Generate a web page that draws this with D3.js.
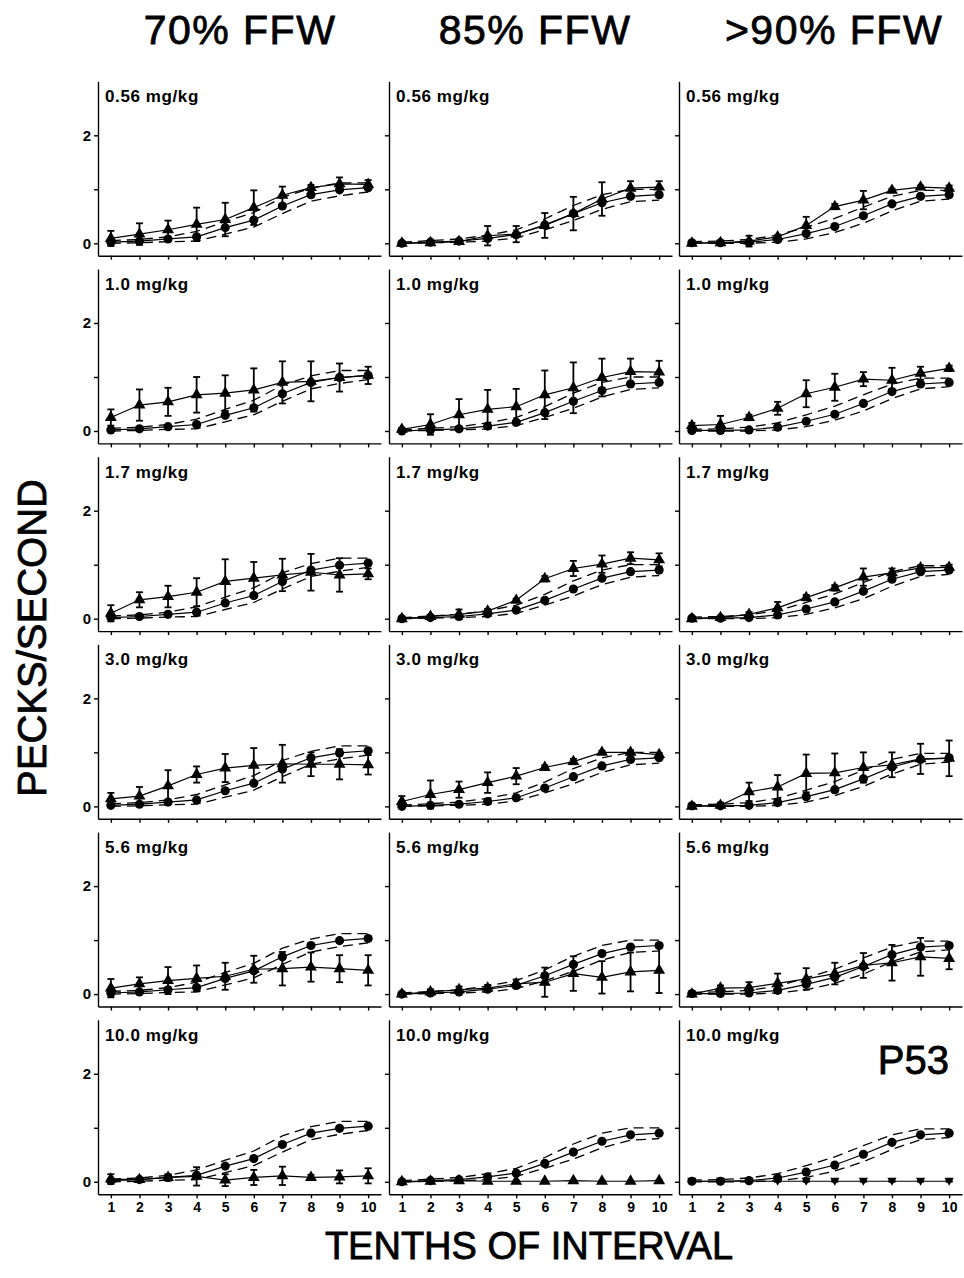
<!DOCTYPE html>
<html>
<head>
<meta charset="utf-8">
<script src="https://cdn.jsdelivr.net/npm/d3@7"></script>
<style>
  body { margin: 0; background: #fff; }
  svg { display: block; }
</style>
</head>
<body>
<script>
// column (food-weight) conditions and dose rows
var columns = ['70% FFW', '85% FFW', '>90% FFW'];
var doses = ['0.56 mg/kg', '1.0 mg/kg', '1.7 mg/kg', '3.0 mg/kg', '5.6 mg/kg', '10.0 mg/kg'];
var tenths = [1, 2, 3, 4, 5, 6, 7, 8, 9, 10];
var yTicks = [0, 1, 2];

// control sessions (circles) with dashed range, one per column
var controlMean = [
  [0.02, 0.04, 0.08, 0.12, 0.29, 0.43, 0.69, 0.9, 0.99, 1.03],
  [0.0, 0.02, 0.04, 0.09, 0.16, 0.34, 0.55, 0.75, 0.87, 0.9],
  [0.01, 0.01, 0.02, 0.07, 0.18, 0.31, 0.51, 0.73, 0.87, 0.9]
];
var controlUpper = [
  [0.05, 0.07, 0.12, 0.22, 0.4, 0.57, 0.85, 1.02, 1.12, 1.12],
  [0.02, 0.05, 0.08, 0.15, 0.25, 0.45, 0.7, 0.9, 1.0, 1.0],
  [0.03, 0.04, 0.07, 0.15, 0.3, 0.46, 0.67, 0.87, 0.98, 0.98]
];
var controlLower = [
  [0.0, 0.01, 0.03, 0.04, 0.17, 0.3, 0.55, 0.78, 0.88, 0.95],
  [0.0, 0.01, 0.02, 0.04, 0.1, 0.25, 0.42, 0.63, 0.77, 0.8],
  [0.0, 0.0, 0.0, 0.02, 0.08, 0.2, 0.37, 0.6, 0.78, 0.82]
];

// drug sessions (triangles): mean and error, [dose][tenth]
var drug70 = [
  [0.09, 0.17, 0.25, 0.35, 0.44, 0.66, 0.89, 1.03, 1.1, 1.09],
  [0.25, 0.48, 0.54, 0.67, 0.7, 0.76, 0.9, 0.92, 0.99, 1.03],
  [0.1, 0.35, 0.41, 0.49, 0.69, 0.75, 0.81, 0.86, 0.81, 0.83],
  [0.14, 0.19, 0.38, 0.59, 0.71, 0.76, 0.79, 0.78, 0.78, 0.77],
  [0.11, 0.19, 0.25, 0.29, 0.33, 0.46, 0.47, 0.5, 0.47, 0.44],
  [0.05, 0.04, 0.08, 0.1, 0.03, 0.08, 0.11, 0.08, 0.09, 0.11]
];
var err70 = [
  [0.14, 0.2, 0.17, 0.31, 0.31, 0.32, 0.16, 0.05, 0.12, 0.08],
  [0.15, 0.29, 0.26, 0.33, 0.33, 0.4, 0.39, 0.37, 0.26, 0.16],
  [0.15, 0.14, 0.2, 0.26, 0.41, 0.3, 0.3, 0.34, 0.31, 0.1],
  [0.11, 0.17, 0.29, 0.15, 0.26, 0.32, 0.35, 0.22, 0.28, 0.18],
  [0.17, 0.12, 0.25, 0.24, 0.25, 0.25, 0.31, 0.27, 0.25, 0.28],
  [0.09, 0.03, 0.06, 0.17, 0.11, 0.14, 0.17, 0.05, 0.12, 0.14]
];
var drug85 = [
  [0.0, 0.01, 0.03, 0.14, 0.17, 0.33, 0.55, 0.82, 1.02, 1.04],
  [0.03, 0.12, 0.3, 0.4, 0.45, 0.67, 0.8, 0.99, 1.1, 1.09],
  [0.0, 0.04, 0.08, 0.14, 0.34, 0.74, 0.93, 1.01, 1.12, 1.09],
  [0.09, 0.22, 0.31, 0.44, 0.56, 0.72, 0.83, 1.0, 1.0, 0.96],
  [0.0, 0.04, 0.08, 0.11, 0.19, 0.22, 0.38, 0.31, 0.41, 0.44],
  [0.0, 0.01, 0.02, 0.01, 0.01, 0.01, 0.02, 0.01, 0.01, 0.02]
];
var err85 = [
  [0.02, 0.02, 0.03, 0.18, 0.15, 0.23, 0.31, 0.31, 0.13, 0.11],
  [0.03, 0.19, 0.29, 0.36, 0.33, 0.45, 0.47, 0.35, 0.24, 0.21],
  [0.02, 0.03, 0.09, 0.04, 0.03, 0.05, 0.14, 0.16, 0.11, 0.12],
  [0.1, 0.26, 0.15, 0.19, 0.15, 0.04, 0.05, 0.03, 0.04, 0.03],
  [0.02, 0.05, 0.06, 0.06, 0.08, 0.27, 0.32, 0.3, 0.36, 0.42],
  [0.01, 0.01, 0.01, 0.01, 0.01, 0.01, 0.01, 0.01, 0.01, 0.01]
];
var drug90 = [
  [0.0, 0.01, 0.04, 0.12, 0.33, 0.68, 0.8, 0.98, 1.04, 1.02],
  [0.1, 0.12, 0.25, 0.42, 0.69, 0.81, 0.96, 0.94, 1.07, 1.16],
  [0.0, 0.02, 0.08, 0.2, 0.39, 0.57, 0.77, 0.85, 0.94, 0.95],
  [0.0, 0.02, 0.27, 0.36, 0.61, 0.62, 0.72, 0.77, 0.88, 0.89],
  [0.0, 0.11, 0.12, 0.2, 0.28, 0.38, 0.53, 0.58, 0.69, 0.66],
  [0.01, 0.01, 0.01, 0.01, 0.01, 0.01, 0.01, 0.01, 0.01, 0.01]
];
var err90 = [
  [0.02, 0.02, 0.1, 0.03, 0.16, 0.05, 0.17, 0.03, 0.03, 0.05],
  [0.05, 0.16, 0.05, 0.12, 0.25, 0.25, 0.13, 0.23, 0.12, 0.05],
  [0.02, 0.03, 0.04, 0.11, 0.05, 0.05, 0.16, 0.08, 0.05, 0.05],
  [0.02, 0.05, 0.17, 0.22, 0.35, 0.36, 0.28, 0.23, 0.28, 0.33],
  [0.02, 0.05, 0.1, 0.18, 0.2, 0.2, 0.23, 0.33, 0.35, 0.2],
  [0.01, 0.01, 0.01, 0.01, 0.01, 0.01, 0.01, 0.01, 0.01, 0.01]
];
var drugByCol = [drug70, drug85, drug90];
var errByCol = [err70, err85, err90];

var W = 964, H = 1278;
var FONT = '"Liberation Sans", Arial, Helvetica, sans-serif';
var PANEL_W = 283, PANEL_H = 174.4;
var colLeft = [98, 389, 679];
var titleX = [240, 535, 834];
var ROW_TOP = 81.3, ROW_STEP = 187.7;

var svg = d3.select('body').append('svg')
  .attr('width', W)
  .attr('height', H)
  .style('font-family', FONT);

var x = d3.scaleLinear().domain([0.55, 10.45]).range([0, PANEL_W]);
var y = d3.scaleLinear().domain([-0.23, 3]).range([PANEL_H, 0]);

var line = d3.line()
  .x(function(d, i) { return x(tenths[i]); })
  .y(function(d) { return y(d); });

var circle = d3.symbol().type(d3.symbolCircle).size(66);
var triUp = d3.symbol().type(d3.symbolTriangle).size(62);
// the last panel (10 mg/kg, >90%) uses inverted triangles
var triDown = 'M0,4.6L-4.6,-3.4L4.6,-3.4Z';

doses.forEach(function(dose, r) {
  columns.forEach(function(col, c) {
    var g = svg.append('g')
      .attr('transform', 'translate(' + colLeft[c] + ',' + (ROW_TOP + r * ROW_STEP) + ')');

    var yAxis = d3.axisLeft(y).tickValues(yTicks).tickSize(4).tickSizeOuter(0)
      .tickFormat(function(d) { return c === 0 && d !== 1 ? d : ''; });
    var xAxis = d3.axisBottom(x).tickValues(tenths).tickSize(4).tickSizeOuter(0)
      .tickFormat(function(d) { return r === doses.length - 1 ? d : ''; });

    var ga = g.append('g').call(yAxis);
    ga.selectAll('text').attr('x', -7).style('font-size', '15px').style('font-weight', 'bold')
      .style('font-family', FONT);
    var gb = g.append('g').attr('transform', 'translate(0,' + PANEL_H + ')').call(xAxis);
    gb.selectAll('text').attr('y', 8).style('font-size', '14px').style('font-weight', 'bold')
      .style('font-family', FONT);
    g.selectAll('.domain, .tick line').attr('stroke', '#000').attr('stroke-width', 1.4);

    g.append('text')
      .attr('x', 7)
      .attr('y', 21)
      .style('font-size', '17px')
      .style('font-weight', 'bold')
      .style('letter-spacing', '0.6px')
      .text(dose);

    // control range (dashed)
    [controlUpper[c], controlLower[c]].forEach(function(arr) {
      g.append('path')
        .attr('d', line(arr))
        .attr('fill', 'none')
        .attr('stroke', '#000')
        .attr('stroke-width', 1.3)
        .attr('stroke-dasharray', '10,6');
    });

    g.append('path')
      .attr('d', line(controlMean[c]))
      .attr('fill', 'none')
      .attr('stroke', '#000')
      .attr('stroke-width', 1.2);

    var mean = drugByCol[c][r];
    var err = errByCol[c][r];

    // error bars with caps
    var eb = g.append('g').selectAll('g')
        .data(mean)
      .enter().append('g')
        .attr('stroke', '#000')
        .attr('stroke-width', 1.8);
    eb.append('line')
      .attr('x1', function(d, i) { return x(tenths[i]); })
      .attr('x2', function(d, i) { return x(tenths[i]); })
      .attr('y1', function(d, i) { return y(d - err[i]); })
      .attr('y2', function(d, i) { return y(d + err[i]); });
    [1, -1].forEach(function(s) {
      eb.append('line')
        .attr('x1', function(d, i) { return x(tenths[i]) - 3.5; })
        .attr('x2', function(d, i) { return x(tenths[i]) + 3.5; })
        .attr('y1', function(d, i) { return y(d + s * err[i]); })
        .attr('y2', function(d, i) { return y(d + s * err[i]); });
    });

    g.append('path')
      .attr('d', line(mean))
      .attr('fill', 'none')
      .attr('stroke', '#000')
      .attr('stroke-width', 1.2);

    g.append('g').selectAll('path')
        .data(controlMean[c])
      .enter().append('path')
        .attr('d', circle)
        .attr('transform', function(d, i) { return 'translate(' + x(tenths[i]) + ',' + y(d) + ')'; })
        .attr('fill', '#000');

    var down = (r === doses.length - 1 && c === columns.length - 1);
    g.append('g').selectAll('path')
        .data(mean)
      .enter().append('path')
        .attr('d', down ? triDown : triUp)
        .attr('transform', function(d, i) { return 'translate(' + x(tenths[i]) + ',' + y(d) + ')'; })
        .attr('fill', '#000');

    if (down) {
      g.append('text')
        .attr('x', PANEL_W - 13)
        .attr('y', 54)
        .attr('text-anchor', 'end')
        .style('font-size', '40px')
        .attr('stroke', '#000')
        .attr('stroke-width', 0.8)
        .text('P53');
    }
  });
});

// column titles
svg.append('g').selectAll('text')
    .data(columns)
  .enter().append('text')
    .attr('x', function(d, i) { return titleX[i]; })
    .attr('y', 44)
    .attr('text-anchor', 'middle')
    .style('font-size', '41px')
    .style('letter-spacing', '1.5px')
    .attr('stroke', '#000')
    .attr('stroke-width', 0.8)
    .text(function(d) { return d; });

svg.append('text')
  .attr('transform', 'translate(46,638) rotate(-90)')
  .attr('text-anchor', 'middle')
  .style('font-size', '40px')
  .attr('stroke', '#000')
  .attr('stroke-width', 0.8)
  .text('PECKS/SECOND');

svg.append('text')
  .attr('x', 529)
  .attr('y', 1259)
  .attr('text-anchor', 'middle')
  .style('font-size', '38px')
  .attr('stroke', '#000')
  .attr('stroke-width', 0.8)
  .text('TENTHS OF INTERVAL');
</script>
</body>
</html>
